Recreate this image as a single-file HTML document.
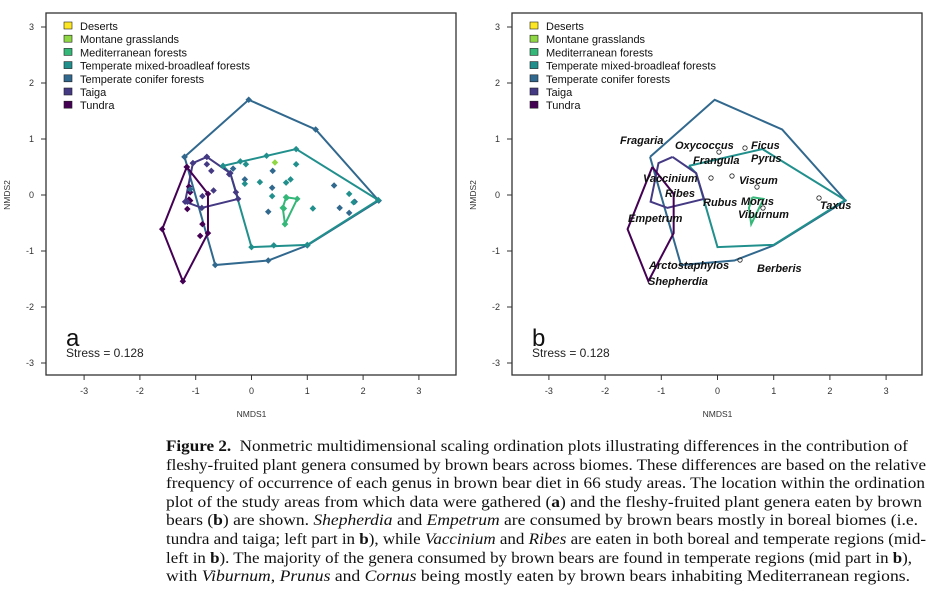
<!DOCTYPE html>
<html><head><meta charset="utf-8"><style>
body{margin:0;background:#fff;width:948px;height:599px;overflow:hidden;position:relative}
svg{position:absolute;left:0;top:0}
.cap{position:absolute;left:166px;top:438px;width:780px;font-family:"Liberation Serif",serif;font-size:15.4px;line-height:18.6px;color:#111;white-space:nowrap}
.cap div{height:18.6px}
.cap span{display:inline-block;transform-origin:0 0}
</style></head><body>
<svg id="s" width="948" height="430" font-family="Liberation Sans, sans-serif"></svg>
<div class="cap">
<div><span><b>Figure 2.</b>&nbsp;&nbsp;Nonmetric multidimensional scaling ordination plots illustrating differences in the contribution of</span></div>
<div><span>fleshy-fruited plant genera consumed by brown bears across biomes. These differences are based on the relative</span></div>
<div><span>frequency of occurrence of each genus in brown bear diet in 66 study areas. The location within the ordination</span></div>
<div><span>plot of the study areas from which data were gathered (<b>a</b>) and the fleshy-fruited plant genera eaten by brown</span></div>
<div><span>bears (<b>b</b>) are shown. <i>Shepherdia</i> and <i>Empetrum</i> are consumed by brown bears mostly in boreal biomes (i.e.</span></div>
<div><span>tundra and taiga; left part in <b>b</b>), while <i>Vaccinium</i> and <i>Ribes</i> are eaten in both boreal and temperate regions (mid-</span></div>
<div><span>left in <b>b</b>). The majority of the genera consumed by brown bears are found in temperate regions (mid part in <b>b</b>),</span></div>
<div><span>with <i>Viburnum</i>, <i>Prunus</i> and <i>Cornus</i> being mostly eaten by brown bears inhabiting Mediterranean regions.</span></div>
</div>
<script>
const cols={des:"#fde725",mon:"#8fd744",med:"#35b779",mix:"#21908d",con:"#31688e",tai:"#443983",tun:"#440154"};
const polys=[
["con",[[-1.2,0.68],[-0.05,1.7],[1.15,1.17],[2.28,-0.1],[1.0,-0.9],[0.3,-1.17],[-0.65,-1.25],[-1.2,0.68]]],
["mix",[[-0.51,0.52],[0.8,0.82],[2.27,-0.09],[1.0,-0.89],[0,-0.93],[-0.38,0.39],[-0.51,0.52]]],
["tai",[[-0.8,0.68],[-0.38,0.39],[-0.24,-0.07],[-0.89,-0.23],[-1.19,-0.12],[-1.05,0.57],[-0.8,0.68]]],
["tun",[[-1.16,0.5],[-0.78,0.02],[-0.78,-0.68],[-1.23,-1.54],[-1.6,-0.61],[-1.16,0.5]]],
["med",[[0.62,-0.04],[0.82,-0.07],[0.6,-0.52],[0.56,-0.23],[0.62,-0.04]]]];
const pts=[["tun",-1.12,0.15],["tun",-1.1,0.05],["tun",-1.12,-0.08],["tun",-1.15,-0.25],["tun",-0.88,-0.52],["tun",-0.92,-0.73],["tun",-1.1,-0.1],
["tai",-1.05,0.57],["tai",-0.8,0.55],["tai",-0.72,0.43],["tai",-0.68,0.08],["tai",-0.88,-0.02],["tai",-1.15,-0.12],["tai",-0.4,0.37],["tai",-0.28,0.05],
["con",-0.33,0.47],["con",-0.12,0.28],["con",0.38,0.43],["con",0.37,0.13],["con",1.48,0.17],["con",1.58,-0.23],["con",1.75,-0.32],["con",1.85,-0.12],["con",0.3,-0.3],["con",-1.1,0.1],
["mix",-0.1,0.55],["mix",-0.12,0.2],["mix",0.15,0.23],["mix",0.37,-0.02],["mix",0.8,0.55],["mix",0.7,0.28],["mix",0.62,0.22],["mix",1.75,0.02],["mix",1.83,-0.13],["mix",1.1,-0.24],["mix",0.4,-0.9],["mix",-0.2,0.6],["mix",0.27,0.7],
["med",0.58,-0.24],["med",0.63,-0.05],["med",0.6,-0.52],["mon",0.42,0.58]];
let h='';
function panel(ox,x0,ux,isB){
 const y0=195,uy=56;
 const X=v=>x0+v*ux,Y=v=>y0-v*uy;
 h+=`<rect x="${ox}" y="13" width="410" height="362" fill="none" stroke="#333" stroke-width="1.3"/>`;
 for(let i=-3;i<=3;i++){
  h+=`<line x1="${X(i)}" y1="375" x2="${X(i)}" y2="380" stroke="#333"/><text x="${X(i)}" y="394" font-size="9" text-anchor="middle" fill="#333">${i}</text>`;
  h+=`<line x1="${ox-5}" y1="${Y(i)}" x2="${ox}" y2="${Y(i)}" stroke="#333"/><text x="${ox-12}" y="${Y(i)+3}" font-size="9" text-anchor="end" fill="#333">${i}</text>`;
 }
 h+=`<text x="${X(0)}" y="417" font-size="8.5" text-anchor="middle" fill="#333">NMDS1</text>`;
 h+=`<text transform="translate(${ox-36},195) rotate(-90)" font-size="8.5" text-anchor="middle" fill="#333">NMDS2</text>`;
 const leg=[["des","Deserts"],["mon","Montane grasslands"],["med","Mediterranean forests"],["mix","Temperate mixed-broadleaf forests"],["con","Temperate conifer forests"],["tai","Taiga"],["tun","Tundra"]];
 leg.forEach((l,i)=>{const y=22+i*13.2;h+=`<rect x="${ox+18}" y="${y}" width="8" height="7" fill="${cols[l[0]]}" stroke="#222" stroke-width="0.6"/><text x="${ox+34}" y="${y+8}" font-size="11" fill="#111">${l[1]}</text>`;});
 polys.forEach(p=>{h+=`<polyline points="${p[1].map(q=>X(q[0])+','+Y(q[1])).join(' ')}" fill="none" stroke="${cols[p[0]]}" stroke-width="2"/>`;});
 if(!isB){pts.forEach(p=>{h+=`<rect x="${X(p[1])-2.3}" y="${Y(p[2])-2.3}" width="4.6" height="4.6" transform="rotate(45 ${X(p[1])} ${Y(p[2])})" fill="${cols[p[0]]}"/>`;});
  polys.forEach(p=>p[1].forEach(q=>{h+=`<rect x="${X(q[0])-2.3}" y="${Y(q[1])-2.3}" width="4.6" height="4.6" transform="rotate(45 ${X(q[0])} ${Y(q[1])})" fill="${cols[p[0]]}"/>`;}));}
 h+=`<text x="${ox+20}" y="346" font-size="24" fill="#111">${isB?'b':'a'}</text><text x="${ox+20}" y="357" font-size="12" fill="#222">Stress = 0.128</text>`;
}
panel(46,251.5,55.8,false);
panel(512,717.5,56.2,true);
[[719,152],[745,148],[711,178],[732,176],[757,187],[819,198],[763,208],[740,260]].forEach(c=>{h+=`<circle cx="${c[0]}" cy="${c[1]}" r="2.2" fill="none" stroke="#222" stroke-width="0.8"/>`;});
[["Fragaria",620,144],["Oxycoccus",675,149],["Ficus",751,149],["Frangula",693,164],["Pyrus",751,162],["Vaccinium",643,182],["Viscum",739,184],["Ribes",665,197],["Rubus",703,206],["Morus",741,205],["Taxus",820,209],["Empetrum",628,222],["Viburnum",738,218],["Arctostaphylos",649,269],["Berberis",757,272],["Shepherdia",648,285]].forEach(t=>{h+=`<text x="${t[1]}" y="${t[2]}" font-size="11" font-weight="bold" font-style="italic" fill="#111">${t[0]}</text>`;});
document.getElementById('s').innerHTML=h;
const targets=[742,760,759,756,752,760,746,744];
document.querySelectorAll('.cap span').forEach((s,i)=>{const w=s.getBoundingClientRect().width;s.style.transform=`scaleX(${targets[i]/w})`;});
</script>
</body></html>
